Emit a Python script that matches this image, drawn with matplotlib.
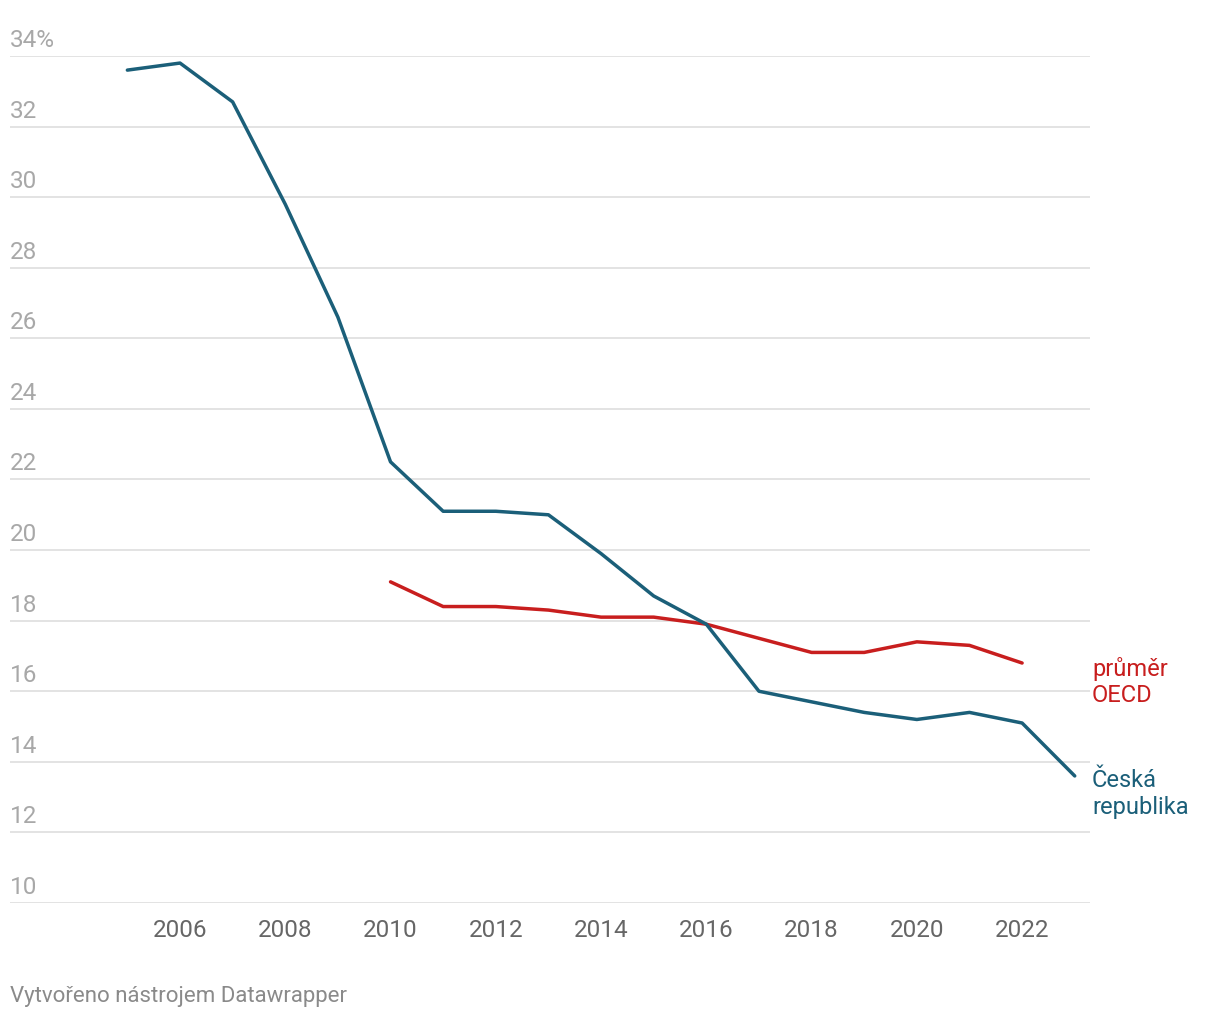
import matplotlib
matplotlib.use('Agg')
import matplotlib.pyplot as plt
import matplotlib.transforms as mtransforms

years_cz = list(range(2005, 2024))
cz = [33.6, 33.8, 32.7, 29.8, 26.6, 22.5, 21.1, 21.1, 21.0, 19.9, 18.7,
      17.9, 16.0, 15.7, 15.4, 15.2, 15.4, 15.1, 13.6]
years_oecd = list(range(2010, 2023))
oecd = [19.1, 18.4, 18.4, 18.3, 18.1, 18.1, 17.9, 17.5, 17.1, 17.1, 17.4,
        17.3, 16.8]
yticks = [10, 12, 14, 16, 18, 20, 22, 24, 26, 28, 30, 32, 34]
xticks = [2006, 2008, 2010, 2012, 2014, 2016, 2018, 2020, 2022]

blue = "#1b5f79"
red = "#c81e1e"

plt.rcParams['font.family'] = ['Roboto', 'DejaVu Sans']

fig = plt.figure(figsize=(12.2, 10.2), dpi=100)
ax = fig.add_axes([10/1220, 1 - 904/1020, 1080/1220, 847/1020])
ax.set_xlim(2002.77, 2023.29)
ax.set_ylim(10, 34)

for y in yticks:
  ax.axhline(y, color="#e1e1e1", lw=1.3, zorder=1)

ax.plot(years_oecd, oecd, color=red, lw=2.5, zorder=3, solid_capstyle='round')
ax.plot(years_cz, cz, color=blue, lw=2.5, zorder=4, solid_capstyle='round')

for s in ax.spines.values():
  s.set_visible(False)
ax.set_yticks([])
ax.set_xticks(xticks)
ax.set_xticklabels([str(x) for x in xticks], fontsize=17.5, color="#666666")
ax.tick_params(axis='x', length=0, pad=11)

# y labels sit just above their gridline
trans = mtransforms.blended_transform_factory(ax.transAxes, ax.transData)
trans = trans + mtransforms.ScaledTranslation(0, 5/100, fig.dpi_scale_trans)
for y in yticks:
  lab = "%d%%" % y if y == 34 else str(y)
  ax.text(0, y, lab, transform=trans, fontsize=17.5, color="#a8a8a8",
          ha='left', va='bottom')

fig.text(1092/1220, 1 - 682/1020, "průměr\nOECD", color=red, fontsize=17,
         ha='left', va='center', linespacing=1.2)
fig.text(1092/1220, 1 - 794/1020, "Česká\nrepublika", color=blue, fontsize=17,
         ha='left', va='center', linespacing=1.2)

fig.text(10/1220, 1 - 997/1020, "Vytvořeno nástrojem Datawrapper",
         color="#8a8a8a", fontsize=16, ha='left', va='center')

fig.savefig("out.png", dpi=100)
